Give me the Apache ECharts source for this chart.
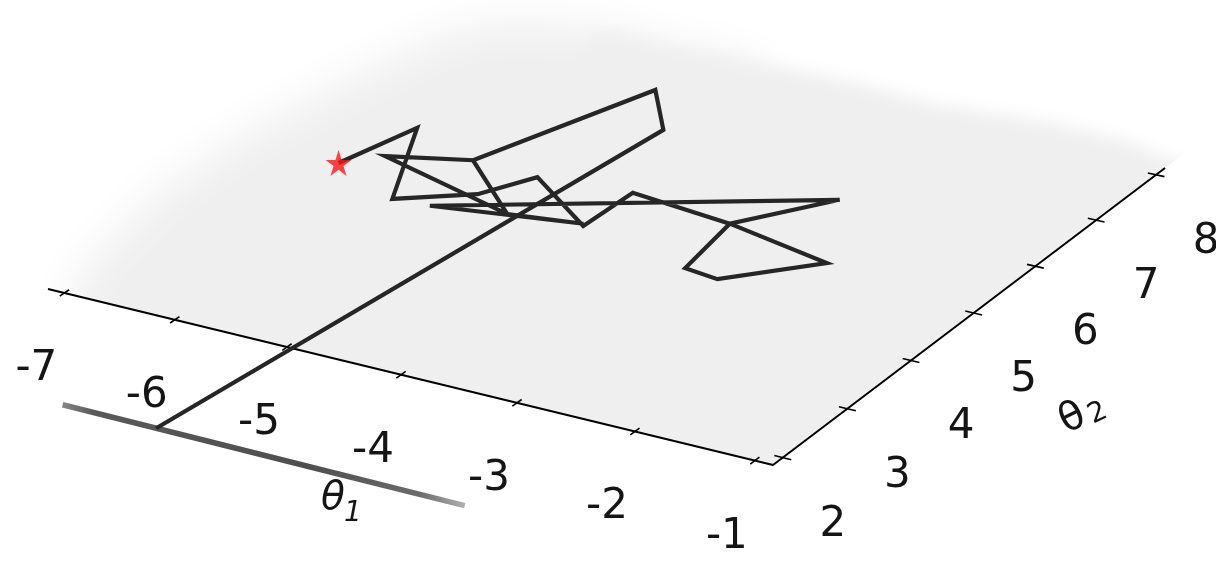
<!DOCTYPE html>
<html>
<head>
<meta charset="utf-8">
<title>Sampler trace over (θ1, θ2)</title>
<script src="https://cdn.jsdelivr.net/npm/echarts@6/dist/echarts.min.js"></script>
<style>
  html, body { margin: 0; padding: 0; background: #ffffff; }
  #chart { width: 1216px; height: 566px; }
</style>
</head>
<body>
<div id="chart"></div>
<script>
// ---- data -------------------------------------------------------------
// Sampler trace over the parameter plane (first point is the start, marked with a star)
const pathTheta1 = [-6.43, -6.24, -5.71, -5.18, -4.94, -4.17, -4.15, -3.22, -2.23, -2.80, -3.11,
                    -3.22, -2.71, -5.39, -4.19, -4.79, -6.18, -5.54, -4.79, -5.54, -4.98, -4.54, -5.10];
const pathTheta2 = [5.08, 5.99, 4.68, 5.09, 5.61, 4.96, 5.71, 5.56, 5.27, 4.59, 4.65,
                    5.56, 6.38, 4.71, 5.00, 4.87, 5.38, 5.65, 4.87, 5.65, 7.58, 6.91, 0.08];

// Marginal trace of θ1 laid out in front of the floor
const marginTheta1 = [-5.93, -4.80, -3.60, -2.44];
const marginTheta2 = [0.08, 0.08, 0.08, 0.08];

// Axis ticks
const theta1Ticks = [-7, -6, -5, -4, -3, -2, -1];
const theta2Ticks = [2, 3, 4, 5, 6, 7, 8];
const theta1Range = [-7.15, -0.85];
const theta2Range = [1.85, 8.15];

// Outline of the density surface, far-left part (soft falloff)
const surfaceLeftTheta1 = [-6.00, -4.40, -4.39, -5.20, -5.96, -6.60, -6.94, -7.10, -7.25, -7.37, -7.35, -7.06];
const surfaceLeftTheta2 = [0.30, 0.30, 8.47, 8.39, 8.44, 8.27, 7.89, 7.21, 6.19, 5.07, 3.71, 2.10];
// Outline of the density surface, far-right part (crisper edge)
const surfaceRightTheta1 = [-6.00, -0.50, -0.50, -0.89, -1.36, -2.04, -2.99, -3.71, -4.39, -5.20, -5.96, -5.70, -6.30];
const surfaceRightTheta2 = [0.30, 0.30, 8.25, 8.31, 8.48, 8.51, 8.40, 8.48, 8.47, 8.39, 8.44, 7.00, 5.00];

// ---- view: perspective map of the (θ1, θ2) floor onto the canvas -------
const VIEW = {
  origin: [48, 289],        // (θ1 min, θ2 min)
  du: [685.6, 152.3],       // along θ1
  dv: [425.6, -274.1],      // along θ2
  a: -0.051, b: 0.046       // foreshortening
};
function project(t1, t2) {
  const u = (t1 - theta1Range[0]) / (theta1Range[1] - theta1Range[0]);
  const v = (t2 - theta2Range[0]) / (theta2Range[1] - theta2Range[0]);
  const w = 1 + VIEW.a * u + VIEW.b * v;
  return [
    (VIEW.origin[0] + VIEW.du[0] * u + VIEW.dv[0] * v) / w,
    (VIEW.origin[1] + VIEW.du[1] * u + VIEW.dv[1] * v) / w
  ];
}

const W = 1216, H = 566;
const SURFACE = '#efefef';
const INK = '#151515';
const TICK_HALF = 0.07;
const LABEL_OFF_1 = [-28, 76];
const LABEL_OFF_2 = [50, 67];
const SHIFT = 4000;   // surface drawn off-canvas; only its blurred shadow lands in view
const FONT = '"DejaVu Sans", "Liberation Sans", sans-serif';

const [T1MIN, T1MAX] = theta1Range;
const [T2MIN, T2MAX] = theta2Range;

const chart = echarts.init(document.getElementById('chart'), null, { renderer: 'canvas' });

const series = [];

function softSurface(xs, ys, blur) {
  return {
    type: 'custom', silent: true, clip: false, z: 1,
    data: [[0, 0]],
    renderItem(params, api) {
      const pts = xs.map((t, i) => {
        const c = api.coord(project(t, ys[i]));
        return [c[0] + SHIFT, c[1]];
      });
      return {
        type: 'polygon',
        shape: { points: pts },
        style: { fill: SURFACE, shadowColor: SURFACE, shadowBlur: blur, shadowOffsetX: -SHIFT }
      };
    }
  };
}

// density surface
series.push(softSurface(surfaceLeftTheta1, surfaceLeftTheta2, 46));
series.push(softSurface(surfaceRightTheta1, surfaceRightTheta2, 18));

// everything in front of / right of the floor edges is cut clean
series.push({
  type: 'custom', silent: true, clip: false, z: 2,
  data: [[0, 0]],
  renderItem(params, api) {
    const corners = [[-9, T2MIN], [T1MAX, T2MIN], [T1MAX, 12], [3, 12], [3, -3], [-9, -3]];
    return {
      type: 'polygon',
      shape: { points: corners.map(c => api.coord(project(c[0], c[1]))) },
      style: { fill: '#ffffff' }
    };
  }
});

// axis lines
series.push({
  type: 'line', silent: true, z: 3, symbol: 'none', animation: false,
  data: [project(T1MIN, T2MIN), project(T1MAX, T2MIN), project(T1MAX, T2MAX)],
  lineStyle: { color: '#000', width: 2 }
});

// θ1 ticks and labels
series.push({
  type: 'custom', silent: true, clip: false, z: 4,
  data: theta1Ticks.map((t, i) => [i, 0]),
  renderItem(params, api) {
    const t = theta1Ticks[params.dataIndex];
    const a = api.coord(project(t, T2MIN - TICK_HALF));
    const b = api.coord(project(t, T2MIN + TICK_HALF));
    const c = api.coord(project(t, T2MIN));
    return {
      type: 'group',
      children: [
        { type: 'line', shape: { x1: a[0], y1: a[1], x2: b[0], y2: b[1] }, style: { stroke: '#000', lineWidth: 1.6 } },
        { type: 'text', x: c[0] + LABEL_OFF_1[0], y: c[1] + LABEL_OFF_1[1],
          style: { text: String(t), font: '42px ' + FONT, fill: INK, align: 'center', verticalAlign: 'middle' } }
      ]
    };
  }
});

// θ2 ticks and labels
series.push({
  type: 'custom', silent: true, clip: false, z: 4,
  data: theta2Ticks.map((t, i) => [i, 0]),
  renderItem(params, api) {
    const t = theta2Ticks[params.dataIndex];
    const a = api.coord(project(T1MAX - TICK_HALF, t));
    const b = api.coord(project(T1MAX + TICK_HALF, t));
    const c = api.coord(project(T1MAX, t));
    return {
      type: 'group',
      children: [
        { type: 'line', shape: { x1: a[0], y1: a[1], x2: b[0], y2: b[1] }, style: { stroke: '#000', lineWidth: 1.6 } },
        { type: 'text', x: c[0] + LABEL_OFF_2[0], y: c[1] + LABEL_OFF_2[1],
          style: { text: String(t), font: '42px ' + FONT, fill: INK, align: 'center', verticalAlign: 'middle' } }
      ]
    };
  }
});

// axis titles
series.push({
  type: 'custom', silent: true, clip: false, z: 4,
  data: [[0, 0]],
  renderItem(params, api) {
    const m1 = api.coord(project((T1MIN + T1MAX) / 2, T2MIN));
    const m2 = api.coord(project(T1MAX, (T2MIN + T2MAX) / 2));
    return {
      type: 'group',
      children: [
        { type: 'group', x: m1[0] - 68, y: m1[1] + 124, children: [
          { type: 'text', x: 0, y: 0, style: { text: 'θ', font: 'italic 39px ' + FONT, fill: INK, align: 'center', verticalAlign: 'middle' } },
          { type: 'text', x: 20, y: 15, style: { text: '1', font: 'italic 28px ' + FONT, fill: INK, align: 'center', verticalAlign: 'middle' } }
        ]},
        { type: 'group', x: m2[0] + 99, y: m2[1] + 106, rotation: 0.45, children: [
          { type: 'text', x: 0, y: 0, style: { text: 'θ', font: '40px ' + FONT, fill: INK, align: 'center', verticalAlign: 'middle' } },
          { type: 'text', x: 25, y: 6, style: { text: '2', font: '28px ' + FONT, fill: INK, align: 'center', verticalAlign: 'middle' } }
        ]}
      ]
    };
  }
});

// marginal θ1 trace with faded ends
series.push({
  type: 'line', silent: true, z: 5, symbol: 'none', animation: false,
  data: marginTheta1.map((t, i) => project(t, marginTheta2[i])),
  lineStyle: {
    width: 5.5,
    color: new echarts.graphic.LinearGradient(0, 0, 1, 0, [
      { offset: 0, color: '#8a8a8a' },
      { offset: 0.08, color: '#5a5a5a' },
      { offset: 0.6, color: '#4e4e4e' },
      { offset: 0.88, color: '#6a6a6a' },
      { offset: 1, color: '#b4b4b4' }
    ])
  }
});

// the trace
series.push({
  type: 'line', silent: true, z: 6, symbol: 'none', animation: false,
  data: pathTheta1.map((t, i) => project(t, pathTheta2[i])),
  lineStyle: { color: '#262626', width: 4.2, join: 'miter', cap: 'butt' }
});

// start point
series.push({
  type: 'scatter', silent: true, z: 7, animation: false,
  data: [project(pathTheta1[0], pathTheta2[0])],
  symbol: 'path://M50,0 L61.2,34.5 L97.6,34.5 L68.2,55.9 L79.4,90.5 L50,69.1 L20.6,90.5 L31.8,55.9 L2.4,34.5 L38.8,34.5 Z',
  symbolSize: 26,
  itemStyle: { color: '#ff1414' }
});

chart.setOption({
  animation: false,
  backgroundColor: '#ffffff',
  grid: { left: 0, right: 0, top: 0, bottom: 0 },
  xAxis: { type: 'value', min: 0, max: W, show: false },
  yAxis: { type: 'value', min: 0, max: H, inverse: true, show: false },
  series: series
});
</script>
</body>
</html>
